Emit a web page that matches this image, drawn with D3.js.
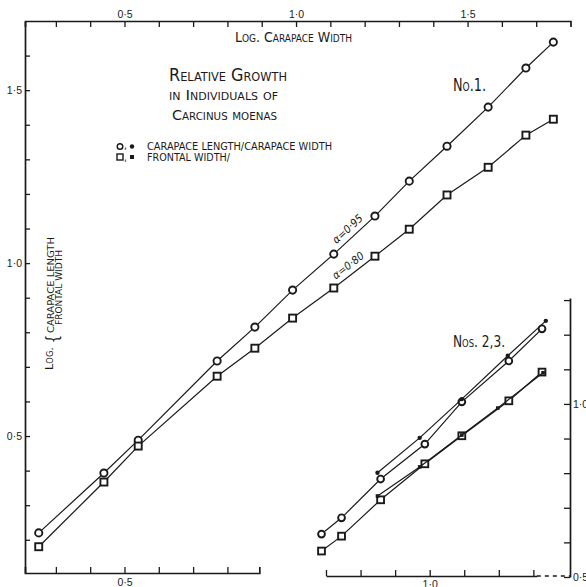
<!DOCTYPE html>
<html>
<head>
<meta charset="utf-8">
<script src="https://cdn.jsdelivr.net/npm/d3@7"></script>
<style>
  body { margin: 0; background: #fff; }
  svg { display: block; font-family: "Liberation Sans Narrow", "DejaVu Sans Condensed", sans-serif; }
  .axis .domain { stroke: #1a1a1a; stroke-width: 1.7; }
  .axis line { stroke: #1a1a1a; stroke-width: 1.3; }
  .axis text { font-size: 10.5px; fill: #1a1a1a; }
  .sc { font-variant: small-caps; fill: #1a1a1a; }
</style>
</head>
<body>
<svg id="chart"></svg>
<script>
// No. 1 : log carapace width, log carapace length, log frontal width
var widthNo1   = [0.25, 0.44, 0.54, 0.77, 0.88, 0.99, 1.11, 1.23, 1.33, 1.44, 1.56, 1.67, 1.75];
var lengthNo1  = [0.22, 0.393, 0.488, 0.717, 0.815, 0.922, 1.026, 1.136, 1.237, 1.338, 1.451, 1.564, 1.639];
var frontalNo1 = [0.18, 0.367, 0.471, 0.673, 0.754, 0.841, 0.928, 1.02, 1.098, 1.197, 1.277, 1.37, 1.416];

// Nos. 2, 3 (inset)
var widthNo2   = [0.687, 0.745, 0.858, 0.986, 1.093, 1.229, 1.325];
var lengthNo2  = [0.624, 0.671, 0.783, 0.884, 1.006, 1.124, 1.217];
var frontalNo2 = [0.575, 0.618, 0.723, 0.827, 0.908, 1.009, 1.092];
var widthNo3        = [0.849, 0.971, 1.093, 1.226, 1.336];
var lengthNo3       = [0.801, 0.902, 1.014, 1.139, 1.24];
var frontalWidthNo3 = [0.849, 0.971, 1.093, 1.197, 1.328];
var frontalNo3      = [0.734, 0.818, 0.91, 0.988, 1.09];

// tick positions and labels
var topTicks = d3.range(3, 18).map(d => d / 10);
var leftTicks = d3.range(2, 17).map(d => d / 10);
var bottomTicks = d3.range(3, 9).map(d => d / 10);
var insetXTicks = d3.range(7, 14).map(d => d / 10);
var insetYTicks = d3.range(5, 14).map(d => d / 10);
var labelValues = [0.5, 1.0, 1.5];
var labelTexts = ["0·5", "1·0", "1·5"];

var svg = d3.select("#chart").attr("width", 586).attr("height", 587);

var x = d3.scaleLinear().domain([0.21, 1.80]).range([25, 570.5]);
var y = d3.scaleLinear().domain([0.104, 1.70]).range([573, 21]);
var xi = d3.scaleLinear().domain([0.70, 1.406]).range([326, 570]);
var yi = d3.scaleLinear().domain([0.5, 1.306]).range([577, 298]);

function fmt(d) {
  var i = labelValues.findIndex(v => Math.abs(v - d) < 1e-6);
  return i < 0 ? "" : labelTexts[i];
}

// top axis
svg.append("g").attr("class", "axis").attr("transform", "translate(0,21)")
  .call(d3.axisTop(x).tickValues(topTicks).tickSizeInner(-6).tickSizeOuter(-6)
    .tickPadding(3).tickFormat(fmt));

// left axis
svg.append("g").attr("class", "axis").attr("transform", "translate(25,0)")
  .call(d3.axisLeft(y).tickValues(leftTicks).tickSizeInner(-5).tickSizeOuter(0)
    .tickPadding(3).tickFormat(fmt));

// bottom axis of main panel
var xb = x.copy().domain([0.21, 0.893]).range([x(0.21), x(0.893)]);
svg.append("g").attr("class", "axis").attr("transform", "translate(0,573)")
  .call(d3.axisBottom(xb).tickValues(bottomTicks).tickSizeInner(-6).tickSizeOuter(-6)
    .tickPadding(6).tickFormat(fmt));

// inset axes
var xib = xi.copy().domain([0.70, 1.31]).range([xi(0.70), xi(1.31)]);
svg.append("g").attr("class", "axis").attr("transform", "translate(0,576)")
  .call(d3.axisBottom(xib).tickValues(insetXTicks).tickSizeInner(-6).tickSizeOuter(0)
    .tickPadding(5).tickFormat(fmt));
svg.append("line")
  .attr("x1", xi(1.31)).attr("x2", xi(1.406)).attr("y1", 576).attr("y2", 576)
  .attr("stroke", "#1a1a1a").attr("stroke-width", 1.3).attr("stroke-dasharray", "4,4");

svg.append("g").attr("class", "axis").attr("transform", "translate(570,0)")
  .call(d3.axisRight(yi).tickValues(insetYTicks).tickSizeInner(-6).tickSizeOuter(0)
    .tickPadding(3).tickFormat(fmt));

// data
function pairs(xs, ys) { return xs.map((v, i) => [v, ys[i]]); }

function drawSeries(sx, sy, pts, shape, filled, size) {
  var g = svg.append("g");
  g.append("path")
    .datum(pts)
    .attr("fill", "none")
    .attr("stroke", "#1a1a1a")
    .attr("stroke-width", 1.2)
    .attr("d", d3.line().x(d => sx(d[0])).y(d => sy(d[1])));
  if (shape === "circle") {
    g.selectAll("circle").data(pts).enter().append("circle")
      .attr("cx", d => sx(d[0])).attr("cy", d => sy(d[1]))
      .attr("r", size)
      .attr("fill", filled ? "#1a1a1a" : "#fff")
      .attr("stroke", "#1a1a1a").attr("stroke-width", filled ? 0 : 1.9);
  } else {
    g.selectAll("rect").data(pts).enter().append("rect")
      .attr("x", d => sx(d[0]) - size).attr("y", d => sy(d[1]) - size)
      .attr("width", size * 2).attr("height", size * 2)
      .attr("fill", filled ? "#1a1a1a" : "#fff")
      .attr("stroke", "#1a1a1a").attr("stroke-width", filled ? 0 : 1.9);
  }
}

drawSeries(x, y, pairs(widthNo1, lengthNo1), "circle", false, 3.6);
drawSeries(x, y, pairs(widthNo1, frontalNo1), "rect", false, 3.5);

drawSeries(xi, yi, pairs(widthNo2, lengthNo2), "circle", false, 3.4);
drawSeries(xi, yi, pairs(widthNo2, frontalNo2), "rect", false, 3.4);
drawSeries(xi, yi, pairs(widthNo3, lengthNo3), "circle", true, 2.2);
drawSeries(xi, yi, pairs(frontalWidthNo3, frontalNo3), "rect", true, 1.8);

// slope labels along the No. 1 lines
function slopeLabel(xs, ys, i, txt) {
  var x0 = x(xs[i]), y0 = y(ys[i]), x1 = x(xs[i + 1]), y1 = y(ys[i + 1]);
  var ang = Math.atan2(y1 - y0, x1 - x0) * 180 / Math.PI;
  svg.append("text")
    .attr("transform", `translate(${(x0 + x1) / 2 - 2},${(y0 + y1) / 2 - 1}) rotate(${ang})`)
    .attr("text-anchor", "middle")
    .attr("dy", "-0.3em")
    .style("font-size", "11px")
    .style("font-style", "italic")
    .attr("fill", "#1a1a1a")
    .text(txt);
}
slopeLabel(widthNo1, lengthNo1, 6, "α=0·95");
slopeLabel(widthNo1, frontalNo1, 6, "α=0·80");

// texts
function label(txt, px, py, size, len, anchor) {
  return svg.append("text")
    .attr("class", "sc")
    .attr("x", px).attr("y", py)
    .attr("text-anchor", anchor || "start")
    .attr("textLength", len).attr("lengthAdjust", "spacingAndGlyphs")
    .style("font-size", size + "px")
    .text(txt);
}

label("Log. Carapace Width", 235, 42, 14, 117);
label("Relative Growth", 169, 81, 17, 118);
label("in Individuals of", 169, 100, 14, 109);
label("Carcinus moenas", 172, 120, 14, 105);
label("No.1.", 453, 91, 17, 33);
label("Nos. 2,3.", 453, 347, 16, 52);

// legend
label("CARAPACE LENGTH/CARAPACE WIDTH", 147, 150, 10, 185);
label("FRONTAL WIDTH/", 147, 161, 10, 83);
svg.append("circle").attr("cx", 120).attr("cy", 146.5).attr("r", 2.8)
  .attr("fill", "#fff").attr("stroke", "#1a1a1a").attr("stroke-width", 1.4);
svg.append("circle").attr("cx", 132).attr("cy", 146.5).attr("r", 2.2).attr("fill", "#1a1a1a");
svg.append("rect").attr("x", 117).attr("y", 154).attr("width", 6).attr("height", 6)
  .attr("fill", "#fff").attr("stroke", "#1a1a1a").attr("stroke-width", 1.4);
svg.append("rect").attr("x", 130).attr("y", 155).attr("width", 4).attr("height", 4).attr("fill", "#1a1a1a");
label(",", 124, 149, 10, 3);
label(",", 124, 161, 10, 3);

// rotated y-axis title
var yt = svg.append("g").attr("transform", "rotate(-90)");
yt.append("text").attr("class", "sc").attr("x", -370).attr("y", 53)
  .attr("textLength", 23).attr("lengthAdjust", "spacingAndGlyphs")
  .style("font-size", "11px").text("Log.");
yt.append("text").attr("class", "sc").attr("x", -343).attr("y", 59)
  .attr("textLength", 8).attr("lengthAdjust", "spacingAndGlyphs")
  .style("font-size", "17px").style("font-variant", "normal").text("{");
yt.append("text").attr("class", "sc").attr("x", -333).attr("y", 54)
  .attr("textLength", 96).attr("lengthAdjust", "spacingAndGlyphs")
  .style("font-size", "9px").text("CARAPACE LENGTH");
yt.append("text").attr("class", "sc").attr("x", -325).attr("y", 62)
  .attr("textLength", 75).attr("lengthAdjust", "spacingAndGlyphs")
  .style("font-size", "9px").text("FRONTAL WIDTH");
</script>
</body>
</html>
